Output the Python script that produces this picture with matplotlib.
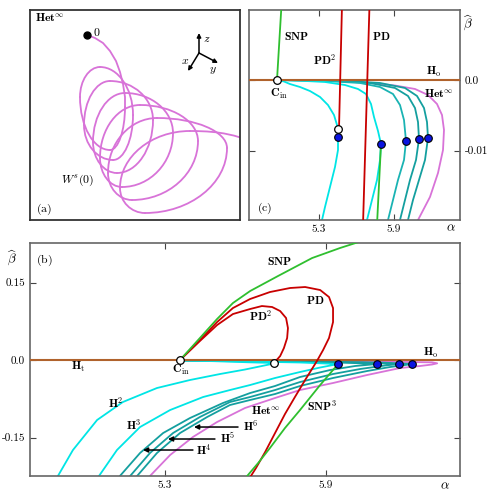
import numpy as np
import matplotlib
matplotlib.use('Agg')
import matplotlib.pyplot as plt
from matplotlib.path import Path
from matplotlib.patches import PathPatch

plt.rcParams['mathtext.fontset'] = 'cm'
plt.rcParams['axes.unicode_minus'] = False

BROWN = '#b0622c'
GREEN = '#2fbf2f'
RED = '#c80000'
CYAN = '#00e5e5'
TEAL4 = '#1ab3b3'
TEAL = '#149f9f'
PINK = '#d873d8'
BLUE = '#0a14e0'

# ---------------- panel (a): projected trajectory W^s(0) ----------------
desc_u = [57, 65, 73, 80, 86, 90, 93, 95, 95]
desc_v = [25, 28, 33, 41, 51, 62, 74, 87, 97]
# then the loops: extreme points (v = vertical tangent, h = horizontal tangent)
traj_u = [95, 80, 50, 70, 103, 83, 54, 80, 123, 87, 63, 95, 143, 92, 70, 110,
          168, 102, 78, 127, 197, 115, 90, 160, 222]
traj_v = [97, 140, 87, 57, 105, 150, 115, 71, 110, 163, 132, 83, 123, 177, 148, 95,
          131, 190, 163, 108, 138, 203, 178, 121, 131]
traj_kind = ['v', 'h', 'v', 'h', 'v', 'h', 'v', 'h', 'v', 'h', 'v', 'h', 'v', 'h',
             'v', 'h', 'v', 'h', 'v', 'h', 'v', 'h', 'v', 'h', 'e']
traj_end_ctrl = (205, 126)
origin_pt = (57, 25)

# ---------------- panel (b) ----------------
b_Cin = (5.356, 0.0)
b_PD2_end = (5.706, -0.0058)
b_dots_a = [5.945, 6.090, 6.172, 6.220]
b_dots_b = [-0.0077, -0.0077, -0.0077, -0.0077]

b_SNP_a = [5.356, 5.393, 5.430, 5.494, 5.553, 5.617, 5.721, 5.848, 5.952, 6.045]
b_SNP_b = [0.0, 0.0213, 0.0426, 0.0794, 0.1103, 0.1335, 0.1626, 0.1974, 0.2168, 0.2323]

b_PD_a = [5.356, 5.430, 5.494, 5.553, 5.617, 5.691, 5.766, 5.822, 5.878, 5.911, 5.926,
          5.926, 5.911, 5.889, 5.866, 5.822, 5.784, 5.747, 5.710, 5.673, 5.639, 5.620, 5.602]
b_PD_b = [0.0, 0.0387, 0.0735, 0.1006, 0.1181, 0.1316, 0.1394, 0.1413, 0.1355, 0.1219, 0.1006,
          0.0735, 0.0426, 0.0194, -0.0019, -0.0387, -0.0716, -0.1045, -0.1413, -0.1781,
          -0.2090, -0.2245, -0.2439]

b_PD2_a = [5.356, 5.430, 5.494, 5.553, 5.617, 5.661, 5.699, 5.729, 5.751, 5.758, 5.755,
           5.743, 5.729, 5.706]
b_PD2_b = [0.0, 0.0368, 0.0677, 0.0890, 0.0987, 0.1045, 0.1026, 0.0948, 0.0813, 0.0619,
           0.0426, 0.0232, 0.0077, -0.0058]

b_SNP3_a = [5.945, 5.878, 5.803, 5.747, 5.691, 5.647, 5.606, 5.580]
b_SNP3_b = [-0.0077, -0.0484, -0.0968, -0.1316, -0.1703, -0.1994, -0.2245, -0.2439]

b_H2_a = [4.879, 4.901, 4.957, 5.047, 5.143, 5.270, 5.393, 5.505, 5.598, 5.661, 5.714,
          5.617, 5.486, 5.356]
b_H2_b = [-0.2516, -0.2245, -0.1742, -0.1161, -0.0813, -0.0542, -0.0387, -0.0271, -0.0184,
          -0.0116, -0.0058, -0.0045, -0.0023, -0.0006]

b_H3_a = [5.035, 5.054, 5.121, 5.207, 5.319, 5.442, 5.542, 5.617, 5.710, 5.803, 5.878,
          5.945, 5.803, 5.617, 5.356]
b_H3_b = [-0.2516, -0.2245, -0.1742, -0.1297, -0.0968, -0.0716, -0.0581, -0.0484, -0.0348,
          -0.0232, -0.0145, -0.0077, -0.0048, -0.0029, -0.0006]

b_H4_a = [5.114, 5.132, 5.207, 5.293, 5.393, 5.516, 5.617, 5.710, 5.803, 5.915, 6.008,
          6.090, 5.952, 5.729, 5.356]
b_H4_b = [-0.2516, -0.2245, -0.1800, -0.1413, -0.1123, -0.0832, -0.0639, -0.0503, -0.0329,
          -0.0194, -0.0116, -0.0077, -0.0048, -0.0029, -0.0006]

b_H5_a = [5.151, 5.170, 5.244, 5.330, 5.430, 5.542, 5.617, 5.710, 5.803, 5.926, 6.027,
          6.120, 6.172, 6.027, 5.766, 5.356]
b_H5_b = [-0.2516, -0.2245, -0.1800, -0.1413, -0.1103, -0.0813, -0.0716, -0.0581, -0.0426,
          -0.0271, -0.0174, -0.0106, -0.0077, -0.0048, -0.0029, -0.0006]

b_H6_a = [5.177, 5.196, 5.270, 5.356, 5.457, 5.542, 5.617, 5.710, 5.803, 5.926, 6.053,
          6.139, 6.194, 6.220, 6.101, 5.803, 5.356]
b_H6_b = [-0.2516, -0.2245, -0.1800, -0.1413, -0.1103, -0.0871, -0.0774, -0.0658, -0.0503,
          -0.0348, -0.0213, -0.0135, -0.0097, -0.0077, -0.0048, -0.0029, -0.0006]

b_Het_a = [5.225, 5.244, 5.319, 5.404, 5.494, 5.598, 5.710, 5.803, 5.926, 6.053, 6.176,
           6.250, 6.295, 6.314, 6.295, 6.213, 6.064, 5.878, 5.617, 5.356]
b_Het_b = [-0.2516, -0.2245, -0.1839, -0.1490, -0.1200, -0.0929, -0.0735, -0.0581, -0.0445,
           -0.0290, -0.0155, -0.0116, -0.0087, -0.0064, -0.0045, -0.0039, -0.0029, -0.0023,
           -0.0015, -0.0006]

# ---------------- panel (c) ----------------
c_Cin = (4.964, 0.0)
c_PD2_end = (5.452, -0.00693)
c_dots_a = [5.452, 5.796, 5.996, 6.100, 6.172]
c_dots_b = [-0.00806, -0.00905, -0.00863, -0.00834, -0.0082]

c_SNP_a = [4.964, 5.000]
c_SNP_b = [0.0, 0.0106]
c_PD2_a = [5.484, 5.460]
c_PD2_b = [0.0106, -0.00693]
c_PD_a = [5.704, 5.652]
c_PD_b = [0.0106, -0.0205]
c_SNP3_a = [5.796, 5.764]
c_SNP3_b = [-0.00905, -0.0205]

c_H2_a = [4.964, 5.020, 5.068, 5.148, 5.228, 5.308, 5.372, 5.420, 5.444, 5.452, 5.452,
          5.428, 5.388, 5.348, 5.324, 5.316]
c_H2_b = [0.0, -0.00021, -0.00057, -0.00099, -0.00156, -0.0024, -0.00354, -0.00495,
          -0.00636, -0.00806, -0.0099, -0.0123, -0.01513, -0.01796, -0.0198, -0.02093]

c_H3_a = [4.964, 5.148, 5.348, 5.508, 5.612, 5.676, 5.716, 5.740, 5.772, 5.796, 5.788,
          5.764, 5.724, 5.684, 5.668]
c_H3_b = [0.0, -0.0001, -0.00028, -0.00071, -0.00127, -0.00198, -0.00339, -0.00523,
          -0.00721, -0.00905, -0.01131, -0.01414, -0.01697, -0.0198, -0.02093]

c_H4_a = [4.964, 5.308, 5.628, 5.788, 5.892, 5.948, 5.980, 5.996, 5.980, 5.932, 5.892,
          5.852, 5.836]
c_H4_b = [0.0, -0.0001, -0.00042, -0.00099, -0.00198, -0.00354, -0.00566, -0.00863,
          -0.01131, -0.01414, -0.01697, -0.0198, -0.02093]

c_H5_a = [4.964, 5.388, 5.708, 5.908, 6.012, 6.068, 6.092, 6.100, 6.076, 6.028, 5.988,
          5.948, 5.932]
c_H5_b = [0.0, -0.0001, -0.00042, -0.00113, -0.00226, -0.00396, -0.00594, -0.00834,
          -0.01131, -0.01414, -0.01697, -0.0198, -0.02093]

c_H6_a = [4.964, 5.468, 5.788, 5.988, 6.084, 6.140, 6.164, 6.172, 6.148, 6.100, 6.052,
          6.012, 5.996]
c_H6_b = [0.0, -0.0001, -0.00042, -0.00113, -0.00226, -0.00396, -0.00594, -0.0082,
          -0.01131, -0.01414, -0.01697, -0.0198, -0.02093]

c_Het_a = [4.964, 5.388, 5.628, 5.908, 6.068, 6.172, 6.244, 6.284, 6.300, 6.292, 6.252,
           6.188, 6.092, 6.068]
c_Het_b = [0.0, -0.00007, -0.00028, -0.00078, -0.00127, -0.00212, -0.00339, -0.00495,
           -0.00707, -0.0099, -0.01315, -0.01654, -0.0198, -0.02093]

b_xticks = [5.3, 5.9]
b_xticklabels = ['5.3', '5.9']
b_yticks = [-0.15, 0.0, 0.15]
b_yticklabels = ['-0.15', '0.0', '0.15']
c_xticks = [5.3, 5.9]
c_xticklabels = ['5.3', '5.9']
c_yticks = [-0.01, 0.0]
c_yticklabels = ['-0.01', '0.0']

# ---------------- figure ----------------
W, H = 493, 492
fig = plt.figure(figsize=(W / 100, H / 100), dpi=100)
ax_a = fig.add_axes([30 / W, 1 - 220 / H, 210 / W, 210 / H])
ax_c = fig.add_axes([249 / W, 1 - 220 / H, 211 / W, 210 / H])
ax_b = fig.add_axes([30 / W, 1 - 476 / H, 430 / W, 233 / H])

LW = 1.3
TF = 8  # tick font
LF = 8.5  # label font

# ---- (a)
ax_a.set_xlim(0, 210)
ax_a.set_ylim(210, 0)
ax_a.set_xticks([])
ax_a.set_yticks([])
for s in ax_a.spines.values():
    s.set_color('#333333')
    s.set_linewidth(1.3)

ax_a.plot(desc_u, desc_v, color=PINK, lw=1.3, solid_capstyle='round', zorder=2)
k = 0.55
for i in range(len(traj_u) - 1):
    px, py, pk = traj_u[i], traj_v[i], traj_kind[i]
    qx, qy, qk = traj_u[i + 1], traj_v[i + 1], traj_kind[i + 1]
    if pk == 'v':
        c1 = (px, py + k * (qy - py))
    else:
        c1 = (px + k * (qx - px), py)
    if qk == 'e':
        c2 = traj_end_ctrl
    elif qk == 'v':
        c2 = (qx, qy + k * (py - qy))
    else:
        c2 = (qx + k * (px - qx), qy)
    seg = Path([(float(px), float(py)), (float(c1[0]), float(c1[1])),
                (float(c2[0]), float(c2[1])), (float(qx), float(qy))],
               [Path.MOVETO, Path.CURVE4, Path.CURVE4, Path.CURVE4])
    ax_a.add_patch(PathPatch(seg, facecolor='none', edgecolor=PINK, lw=1.3,
                             capstyle='round', zorder=2))
ax_a.plot([origin_pt[0]], [origin_pt[1]], 'o', color='k', ms=5, zorder=5)
ax_a.text(67, 23, r'$\mathbf{0}$', fontsize=LF, ha='center', va='center')
ax_a.text(5, 9, r'$\mathbf{Het}^{\infty}$', fontsize=LF, ha='left', va='center')
ax_a.text(48, 170, r'$W^{s}(\mathbf{0})$', fontsize=LF, ha='center', va='center')
ax_a.text(6, 199, r'$\mathrm{(a)}$', fontsize=LF, ha='left', va='center')
ctr = (169, 43)
for tip in [(169, 23), (188, 53), (158, 61)]:
    ax_a.annotate('', xy=tip, xytext=ctr,
                  arrowprops=dict(arrowstyle='-|>', color='k', lw=1.1, mutation_scale=6,
                                  shrinkA=0, shrinkB=0))
ax_a.text(177, 28, r'$z$', fontsize=LF, ha='center', va='center')
ax_a.text(155, 51, r'$x$', fontsize=LF, ha='center', va='center')
ax_a.text(183, 60, r'$y$', fontsize=LF, ha='center', va='center')


def style_axes(ax):
    for s in ax.spines.values():
        s.set_color('#666666')
        s.set_linewidth(1.2)
    ax.tick_params(direction='in', length=4, width=0.8, color='#444444', top=True,
                   right=True, pad=3.5)


# ---- (b)
ax = ax_b
ax.set_xlim(4.797, 6.399)
ax.set_ylim(-0.2245, 0.2265)
style_axes(ax)
ax.set_xticks(b_xticks)
ax.set_xticklabels(b_xticklabels, fontfamily='cmr10', fontsize=TF)
ax.set_yticks(b_yticks)
ax.set_yticklabels(b_yticklabels, fontfamily='cmr10', fontsize=TF)

ax.plot(b_Het_a, b_Het_b, color=PINK, lw=LW, zorder=2)
for a_, b_, c_ in [(b_H6_a, b_H6_b, TEAL), (b_H5_a, b_H5_b, TEAL), (b_H4_a, b_H4_b, TEAL),
                   (b_H3_a, b_H3_b, CYAN), (b_H2_a, b_H2_b, CYAN)]:
    ax.plot(a_, b_, color=c_, lw=LW, zorder=2)
ax.axhline(0.0, color=BROWN, lw=1.5, zorder=3)
ax.plot(b_PD2_a, b_PD2_b, color=RED, lw=LW, zorder=4)
ax.plot(b_PD_a, b_PD_b, color=RED, lw=LW, zorder=4)
ax.plot(b_SNP_a, b_SNP_b, color=GREEN, lw=LW, zorder=5)
ax.plot(b_SNP3_a, b_SNP3_b, color=GREEN, lw=LW, zorder=5)
ax.plot(b_dots_a, b_dots_b, 'o', ms=5.5, mfc=BLUE, mec='k', mew=0.8, ls='none', zorder=7)
ax.plot([b_Cin[0], b_PD2_end[0]], [b_Cin[1], b_PD2_end[1]], 'o', ms=5.5, mfc='white',
        mec='k', mew=0.9, ls='none', zorder=7)

ax.text(4.819, 0.1936, r'$\mathrm{(b)}$', fontsize=LF, ha='left', va='center')
ax.text(4.976, -0.0135, r'$\mathbf{H}_{\mathrm{t}}$', fontsize=LF, ha='center', va='center')
ax.text(5.360, -0.0190, r'$\mathbf{C}_{\mathrm{in}}$', fontsize=LF, ha='center', va='center')
ax.text(5.117, -0.0832, r'$\mathbf{H}^{\mathbf{2}}$', fontsize=LF, ha='center', va='center')
ax.text(5.184, -0.1258, r'$\mathbf{H}^{\mathbf{3}}$', fontsize=LF, ha='center', va='center')
ax.text(5.445, -0.1742, r'$\mathbf{H}^{\mathbf{4}}$', fontsize=LF, ha='center', va='center')
ax.text(5.533, -0.1529, r'$\mathbf{H}^{\mathbf{5}}$', fontsize=LF, ha='center', va='center')
ax.text(5.620, -0.1277, r'$\mathbf{H}^{\mathbf{6}}$', fontsize=LF, ha='center', va='center')
for (x0, x1, yy) in [(5.404, 5.218, -0.1742), (5.486, 5.311, -0.1529), (5.572, 5.408, -0.1297)]:
    ax.annotate('', xy=(x1, yy), xytext=(x0, yy),
                arrowprops=dict(arrowstyle='-|>', color='k', lw=1.1, mutation_scale=7,
                                shrinkA=0, shrinkB=0), zorder=8)
ax.text(5.676, -0.0987, r'$\mathbf{Het}^{\infty}$', fontsize=LF, ha='center', va='center')
ax.text(5.885, -0.0890, r'$\mathbf{SNP}^{\mathbf{3}}$', fontsize=LF, ha='center', va='center')
ax.text(5.725, 0.1916, r'$\mathbf{SNP}$', fontsize=LF, ha='center', va='center')
ax.text(5.859, 0.1161, r'$\mathbf{PD}$', fontsize=LF, ha='center', va='center')
ax.text(5.658, 0.0852, r'$\mathbf{PD}^{\mathbf{2}}$', fontsize=LF, ha='center', va='center')
ax.text(6.291, 0.0135, r'$\mathbf{H}_{\mathrm{o}}$', fontsize=LF, ha='center', va='center')

# ---- (c)
ax = ax_c
ax.set_xlim(4.74, 6.428)
ax.set_ylim(-0.0198, 0.0099)
style_axes(ax)
ax.set_xticks(c_xticks)
ax.set_xticklabels(c_xticklabels, fontfamily='cmr10', fontsize=TF)
ax.set_yticks(c_yticks)
ax.set_yticklabels(c_yticklabels, fontfamily='cmr10', fontsize=TF)
ax.tick_params(axis='y', labelleft=False, labelright=True)
ax.tick_params(axis='x', pad=3)

ax.plot(c_Het_a, c_Het_b, color=PINK, lw=LW, zorder=2)
for a_, b_, c_ in [(c_H6_a, c_H6_b, TEAL), (c_H5_a, c_H5_b, TEAL), (c_H4_a, c_H4_b, TEAL4),
                   (c_H3_a, c_H3_b, CYAN), (c_H2_a, c_H2_b, CYAN)]:
    ax.plot(a_, b_, color=c_, lw=LW, zorder=2)
ax.axhline(0.0, color=BROWN, lw=1.5, zorder=3)
ax.plot(c_PD2_a, c_PD2_b, color=RED, lw=LW, zorder=4)
ax.plot(c_PD_a, c_PD_b, color=RED, lw=LW, zorder=4)
ax.plot(c_SNP_a, c_SNP_b, color=GREEN, lw=LW, zorder=5)
ax.plot(c_SNP3_a, c_SNP3_b, color=GREEN, lw=LW, zorder=5)
ax.plot(c_dots_a, c_dots_b, 'o', ms=5.5, mfc=BLUE, mec='k', mew=0.8, ls='none', zorder=7)
ax.plot([c_Cin[0], c_PD2_end[0]], [c_Cin[1], c_PD2_end[1]], 'o', ms=5.5, mfc='white',
        mec='k', mew=0.9, ls='none', zorder=7)

ax.text(5.124, 0.00622, r'$\mathbf{SNP}$', fontsize=LF, ha='center', va='center')
ax.text(5.348, 0.00283, r'$\mathbf{PD}^{\mathbf{2}}$', fontsize=LF, ha='center', va='center')
ax.text(5.796, 0.00622, r'$\mathbf{PD}$', fontsize=LF, ha='center', va='center')
ax.text(6.220, 0.00113, r'$\mathbf{H}_{\mathrm{o}}$', fontsize=LF, ha='center', va='center')
ax.text(4.980, -0.00200, r'$\mathbf{C}_{\mathrm{in}}$', fontsize=LF, ha='center', va='center')
ax.text(6.262, -0.00198, r'$\mathbf{Het}^{\infty}$', fontsize=LF, ha='center', va='center')
ax.text(4.804, -0.0181, r'$\mathrm{(c)}$', fontsize=LF, ha='left', va='center')

# axis labels
fig.text(12 / W, 1 - 258 / H, r'$\widehat{\beta}$', fontsize=9.5, ha='center', va='center')
fig.text(468 / W, 1 - 23 / H, r'$\widehat{\beta}$', fontsize=9.5, ha='center', va='center')
fig.text(445 / W, 1 - 486 / H, r'$\alpha$', fontsize=9.5, ha='center', va='center')
fig.text(451 / W, 1 - 228 / H, r'$\alpha$', fontsize=9.5, ha='center', va='center')

fig.savefig('out.png', dpi=100)
